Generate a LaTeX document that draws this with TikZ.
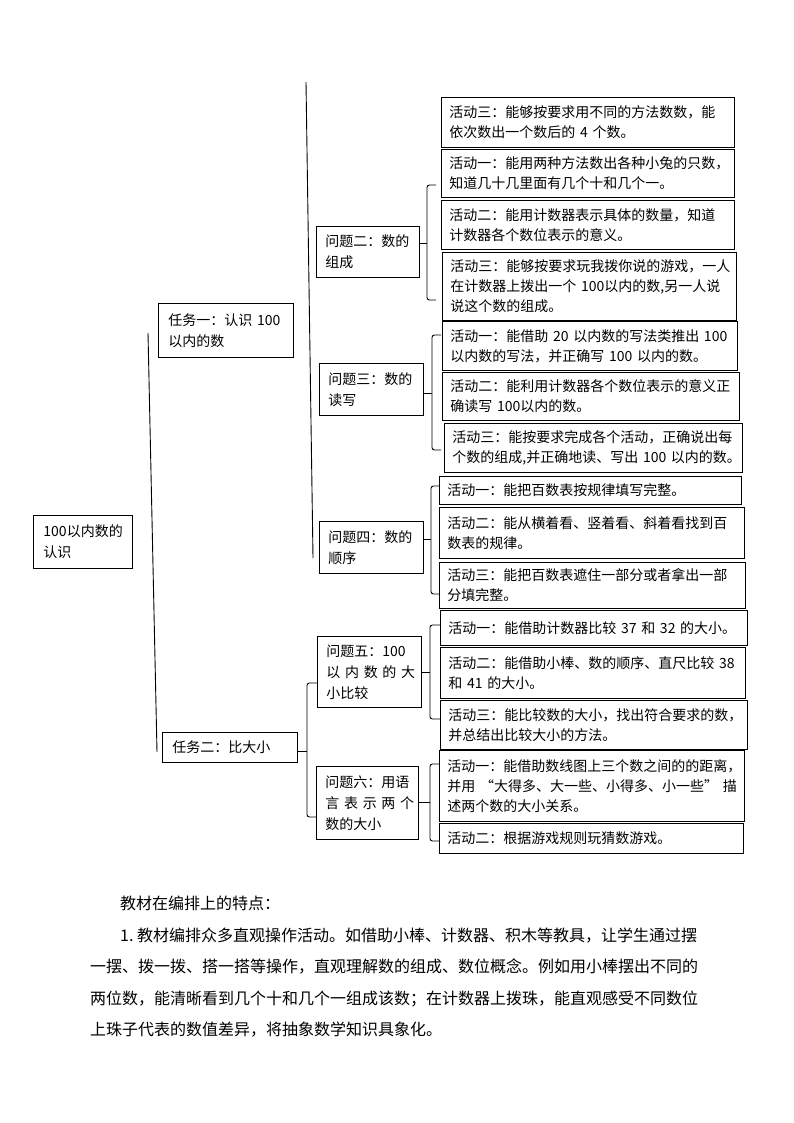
\documentclass[tikz,border=0pt]{standalone}
\usepackage{fontspec}
\setmainfont{Noto Sans CJK SC}
\newcommand\spreadto[2]{\makebox[#1][s]{#2}}
\begin{document}
\begin{tikzpicture}[x=1pt,y=-1pt,
  box/.style={draw, line width=0.9pt, inner xsep=8pt, inner ysep=0pt, align=left, anchor=north west, font=\fontsize{14}{20}\selectfont},
  qbox/.style={box, inner xsep=9pt, font=\fontsize{14}{21}\selectfont},
  tbox/.style={box, inner xsep=10pt, font=\fontsize{14}{21}\selectfont},
  brk/.style={line width=0.9pt, rounded corners=2.5pt},
  ln/.style={line width=0.9pt},
  para/.style={anchor=base west, inner sep=0pt, font=\fontsize{16}{31}\selectfont}]
\fill[white] (0,0) rectangle (794,1123);
\useasboundingbox (0,0) rectangle (794,1123);

% main
\node[box, inner xsep=10pt, text width=79pt, minimum height=53pt, font=\fontsize{14}{21}\selectfont] (main) at (33,515) {100以内数的\\认识};
\draw[ln] (148,333) -- (157,752);

% tasks
\node[tbox, text width=115pt, minimum height=54pt] (t1) at (158,303) {任务一：认识~100\\以内的数};
\node[tbox, text width=115pt, minimum height=30pt] (t2) at (162,732) {任务二：比大小};
\draw[ln] (306,82) -- (313,558);

% questions
\node[qbox, text width=85pt, minimum height=51pt] (q2) at (316,226) {问题二：数的\\组成};
\node[qbox, text width=86pt, minimum height=52pt] (q3) at (319,363) {问题三：数的\\读写};
\node[qbox, text width=86pt, minimum height=52pt] (q4) at (319,521) {问题四：数的\\顺序};
\node[qbox, text width=86pt, minimum height=71pt] (q5) at (317,636) {问题五：100\\\spreadto{82pt}{以 内 数 的 大}\\小比较};
\node[qbox, text width=84pt, minimum height=73pt] (q6) at (316,766) {问题六：用语\\\spreadto{82pt}{言 表 示 两 个}\\数的大小};

% activities
\node[box, text width=277pt, minimum height=50pt] (a20) at (441,97) {活动三：能够按要求用不同的方法数数，能\\依次数出一个数后的~4~个数。};
\node[box, text width=277pt, minimum height=48pt] (a21) at (441,149) {活动一：能用两种方法数出各种小兔的只数，\\知道几十几里面有几个十和几个一。};
\node[box, text width=277pt, minimum height=49pt] (a22) at (441,200) {活动二：能用计数器表示具体的数量，知道\\计数器各个数位表示的意义。};
\node[box, text width=278pt, minimum height=68pt] (a23) at (442,252) {活动三：能够按要求玩我拨你说的游戏，一人\\在计数器上拨出一个~100以内的数,另一人说\\说这个数的组成。};

\node[box, text width=279pt, minimum height=49pt] (a31) at (442,321) {活动一：能借助~20~以内数的写法类推出~100\\以内数的写法，并正确写~100~以内的数。};
\node[box, text width=281pt, minimum height=48pt] (a32) at (442,372) {活动二：能利用计数器各个数位表示的意义正\\确读写~100以内的数。};
\node[box, text width=282pt, minimum height=49pt] (a33) at (444,423) {活动三：能按要求完成各个活动，正确说出每\\个数的组成,并正确地读、写出~100~以内的数。};

\node[box, text width=286pt, minimum height=28pt] (a41) at (439,476) {活动一：能把百数表按规律填写完整。};
\node[box, text width=289pt, minimum height=51pt] (a42) at (439,507) {活动二：能从横着看、竖着看、斜着看找到百\\数表的规律。};
\node[box, text width=290pt, minimum height=46pt] (a43) at (439,562) {活动三：能把百数表遮住一部分或者拿出一部\\分填完整。};

\node[box, text width=291pt, minimum height=35pt] (a51) at (440,610) {活动一：能借助计数器比较~37~和~32~的大小。};
\node[box, text width=289pt, minimum height=51pt] (a52) at (440,647) {活动二：能借助小棒、数的顺序、直尺比较~38\\和~41~的大小。};
\node[box, text width=291pt, minimum height=49pt] (a53) at (440,700) {活动三：能比较数的大小，找出符合要求的数，\\并总结出比较大小的方法。};

\node[box, text width=289pt, minimum height=71pt] (a61) at (439,750) {活动一：能借助数线图上三个数之间的的距离，\\并用~“大得多、大一些、小得多、小一些”~描\\述两个数的大小关系。};
\node[box, text width=288pt, minimum height=30pt] (a62) at (439,823) {活动二：根据游戏规则玩猜数游戏。};

% brackets
\coordinate (m2) at (427,243);
\coordinate (m3) at (432,393);
\coordinate (m4) at (431,539);
\coordinate (m5) at (430,672);
\coordinate (m6) at (430,802);
\coordinate (mt) at (307,751);
\draw[brk] (436,185) -- (427,185) -- (427,300) -- (436,300);
\draw[ln] (q2.east |- m2) -- (m2);
\draw[brk] (441,335) -- (432,335) -- (432,450) -- (441,450);
\draw[ln] (q3.east |- m3) -- (m3);
\draw[brk] (440,486) -- (431,486) -- (431,594) -- (440,594);
\draw[ln] (q4.east |- m4) -- (m4);
\draw[brk] (440,625) -- (430,625) -- (430,719) -- (440,719);
\draw[ln] (q5.east |- m5) -- (m5);
\draw[brk] (439,764) -- (430,764) -- (430,841) -- (439,841);
\draw[ln] (q6.east |- m6) -- (m6);
\draw[brk] (q5.west |- 0,683) -- (307,683) -- (307,817) -- (q6.west |- 0,817);
\draw[ln] (t2.east |- mt) -- (mt);

% paragraph
\node[para] (p0) at (120,909) {教材在编排上的特点：};
\node[para] (p1) at (120,941) {1.~教材编排众多直观操作活动。如借助小棒、计数器、积木等教具，让学生通过摆};
\node[para] (p2) at (90,972) {一摆、拨一拨、搭一搭等操作，直观理解数的组成、数位概念。例如用小棒摆出不同的};
\node[para] (p3) at (90,1004) {两位数，能清晰看到几个十和几个一组成该数；在计数器上拨珠，能直观感受不同数位};
\node[para] (p4) at (90,1035) {上珠子代表的数值差异，将抽象数学知识具象化。};
\end{tikzpicture}
\end{document}
